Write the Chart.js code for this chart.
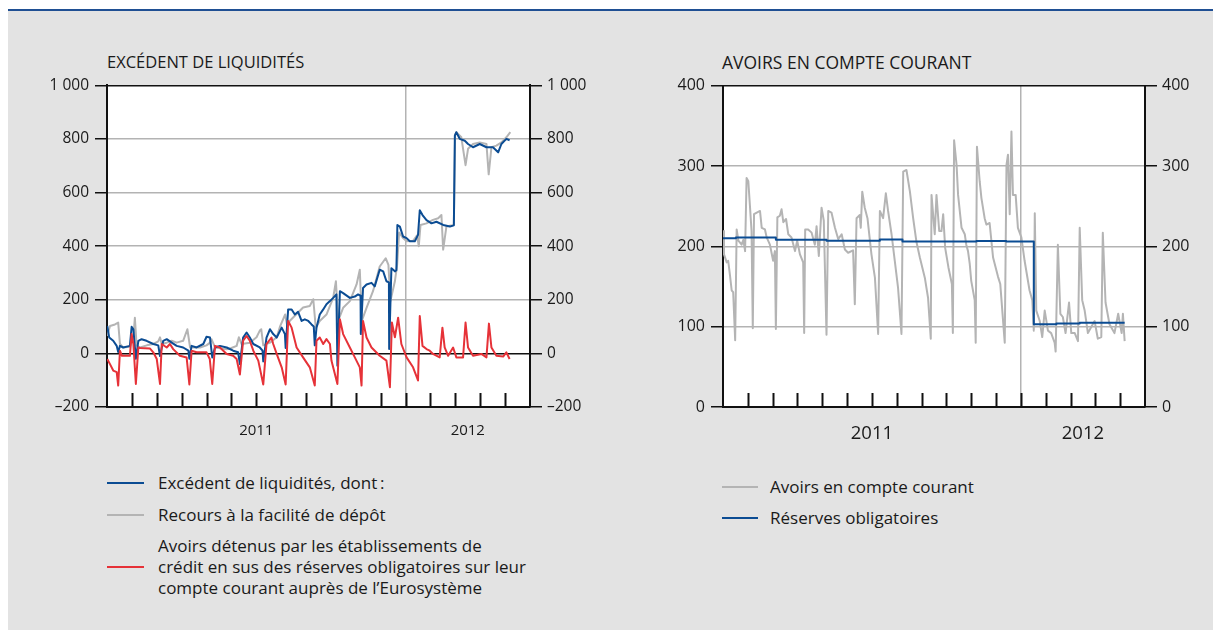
<!DOCTYPE html>
<html lang="fr">
<head>
<meta charset="utf-8">
<title>Excédent de liquidités et avoirs en compte courant</title>
<script src="https://cdn.jsdelivr.net/npm/chart.js@4.4.1/dist/chart.umd.min.js"></script>
<style>
  html, body { margin: 0; padding: 0; background: #ffffff; }
  body { width: 1221px; height: 630px; position: relative; overflow: hidden;
         font-family: "Open Sans", "Noto Sans", sans-serif; color: #1a1a1a; }
  #filet { position: absolute; left: 8px; top: 9px; width: 1205px; height: 2px; background: #1f4f93; }
  #fond { position: absolute; left: 8px; top: 11px; width: 1205px; height: 619px; background: #e3e3e3; }
  .titre { position: absolute; line-height: 18px; white-space: nowrap; }
  canvas { position: absolute; }
  .leg { position: absolute; font-size: 17px; line-height: 21px; white-space: nowrap; }
  .trait { position: absolute; height: 2px; }
</style>
</head>
<body>
<div id="filet"></div>
<div id="fond"></div>

<div class="titre" style="left:107px; top:53px; font-size:16.5px;">EXCÉDENT DE LIQUIDITÉS</div>
<div class="titre" style="left:722px; top:53px; font-size:17.5px;">AVOIRS EN COMPTE COURANT</div>

<canvas id="graphGauche" width="570" height="380" style="left:30px; top:70px;"></canvas>
<canvas id="graphDroite" width="595" height="380" style="left:620px; top:70px;"></canvas>

<!-- Légende du graphique de gauche -->
<div class="trait" style="left:107px; top:482px; width:37px; background:#0b4c93;"></div>
<div class="leg" style="left:158px; top:472px;">Excédent de liquidités, dont&#8201;:</div>
<div class="trait" style="left:107px; top:514px; width:37px; background:#b4b4b4;"></div>
<div class="leg" style="left:158px; top:504px;">Recours à la facilité de dépôt</div>
<div class="trait" style="left:107px; top:566px; width:37px; background:#e63238;"></div>
<div class="leg" style="left:158px; top:535px;">Avoirs détenus par les établissements de<br>crédit en sus des réserves obligatoires sur leur<br>compte courant auprès de l’Eurosystème</div>

<!-- Légende du graphique de droite -->
<div class="trait" style="left:722px; top:486px; width:36px; background:#b4b4b4;"></div>
<div class="leg" style="left:770px; top:476px;">Avoirs en compte courant</div>
<div class="trait" style="left:722px; top:517px; width:36px; background:#0b4c93;"></div>
<div class="leg" style="left:770px; top:507px;">Réserves obligatoires</div>

<script>
// Abscisse : mois écoulés depuis le 1er janvier 2011 (12 = 1er janvier 2012).
// Ordonnée : milliards d'euros.

// --- Excédent de liquidités (graphique de gauche) ---
const excedentLiquidites = [
  [0.01,102],[0.09,59],[0.25,47],[0.39,28],[0.45,5],[0.52,28],[0.65,22],[0.92,28],[0.99,99],[1.06,90],
  [1.16,-20],[1.26,47],[1.39,53],[1.59,47],[1.86,35],[2.06,30],[2.13,-10],[2.26,47],[2.40,53],[2.60,40],
  [2.80,28],[3.06,22],[3.27,10],[3.31,-20],[3.40,28],[3.60,22],[3.87,35],[4.00,62],[4.14,59],[4.23,-15],
  [4.34,22],[4.54,28],[4.81,22],[5.07,10],[5.27,4],[5.34,-40],[5.47,59],[5.61,78],[5.74,59],[5.88,35],
  [6.14,22],[6.25,10],[6.28,-30],[6.41,59],[6.55,90],[6.68,72],[6.82,59],[7.02,96],[7.15,72],[7.18,20],
  [7.28,164],[7.42,164],[7.55,145],[7.68,155],[7.82,121],[7.95,127],[8.09,121],[8.22,108],[8.31,100],[8.35,30],
  [8.42,96],[8.55,145],[8.69,164],[8.82,183],[8.96,195],[9.09,207],[9.22,220],[9.26,-46],[9.36,232],[9.49,225],
  [9.76,207],[9.96,212],[10.09,220],[10.19,215],[10.20,72],[10.29,244],[10.43,257],[10.63,263],[10.76,250],[10.96,312],
  [11.10,306],[11.23,269],[11.33,265],[11.34,16],[11.43,318],[11.57,306],[11.63,310],[11.67,479],[11.77,473],[11.90,436],
  [12.04,430],[12.17,418],[12.37,418],[12.50,442],[12.57,534],[12.68,516],[12.84,497],[13.04,485],[13.24,491],[13.51,479],
  [13.78,473],[13.94,478],[13.98,812],[14.04,825],[14.18,800],[14.38,793],[14.51,781],[14.71,769],[14.98,781],[15.25,769],
  [15.51,769],[15.72,750],[15.85,781],[16.05,800],[16.18,795]
];

const recoursFaciliteDepot = [
  [0.01,65],[0.12,102],[0.32,108],[0.45,115],[0.52,35],[0.65,22],[0.92,25],[1.06,60],[1.12,133],[1.19,30],
  [1.33,22],[1.60,30],[1.86,35],[2.06,45],[2.13,60],[2.20,35],[2.40,40],[2.60,47],[2.80,40],[3.06,47],
  [3.23,90],[3.34,22],[3.74,22],[4.00,30],[4.14,40],[4.20,53],[4.34,22],[4.81,15],[5.00,20],[5.21,28],
  [5.30,60],[5.41,35],[5.74,40],[6.01,60],[6.14,85],[6.20,90],[6.28,30],[6.55,40],[6.82,60],[6.96,102],
  [7.16,145],[7.25,100],[7.35,122],[7.62,147],[7.88,171],[8.15,177],[8.29,202],[8.39,96],[8.55,121],[8.82,145],
  [9.09,207],[9.20,269],[9.29,121],[9.49,170],[9.76,195],[10.03,257],[10.16,312],[10.24,121],[10.43,170],[10.69,232],
  [10.96,324],[11.20,355],[11.31,330],[11.39,195],[11.57,269],[11.66,330],[11.74,451],[11.90,430],[12.04,418],[12.30,420],
  [12.46,440],[12.53,400],[12.60,479],[12.84,485],[13.10,498],[13.31,504],[13.44,516],[13.51,387],[13.64,473],[13.88,478],
  [13.94,480],[13.99,815],[14.04,825],[14.24,806],[14.41,702],[14.51,763],[14.71,781],[14.98,787],[15.25,781],[15.34,668],
  [15.45,769],[15.65,775],[15.85,787],[16.05,806],[16.21,825]
];

const avoirsExcedentaires = [
  [0.01,-21],[0.12,-40],[0.25,-64],[0.39,-70],[0.45,-120],[0.52,10],[0.60,-9],[0.92,-9],[0.99,72],[1.06,35],
  [1.16,-114],[1.26,22],[1.33,20],[1.73,18],[1.86,4],[2.00,-21],[2.13,-114],[2.20,35],[2.40,22],[2.53,35],
  [2.66,16],[2.93,-9],[3.20,-15],[3.31,-116],[3.40,10],[3.60,4],[4.00,4],[4.13,-21],[4.23,-114],[4.34,28],
  [4.54,22],[4.81,-2],[5.07,-9],[5.21,-21],[5.34,-79],[5.47,47],[5.61,65],[5.74,47],[5.88,10],[6.08,-27],
  [6.28,-116],[6.41,35],[6.61,59],[6.68,35],[6.82,-2],[7.02,-52],[7.18,-116],[7.28,121],[7.42,96],[7.62,22],
  [7.88,-15],[8.15,-52],[8.35,-120],[8.42,47],[8.55,59],[8.69,35],[8.82,53],[8.96,35],[9.02,-27],[9.26,-114],
  [9.36,127],[9.49,72],[9.76,22],[9.96,-15],[10.16,-52],[10.23,-120],[10.29,121],[10.43,59],[10.63,22],[10.96,-9],
  [11.23,-27],[11.37,-126],[11.45,115],[11.57,60],[11.70,133],[11.83,35],[12.04,-15],[12.30,-52],[12.50,-101],[12.57,139],
  [12.68,28],[12.84,16],[12.97,10],[13.10,-2],[13.37,-15],[13.48,96],[13.57,22],[13.71,-9],[13.91,22],[14.04,-15],
  [14.31,-15],[14.41,115],[14.51,22],[14.71,-9],[15.05,-2],[15.25,-15],[15.35,111],[15.45,22],[15.65,-9],[15.92,-12],
  [16.05,4],[16.18,-21]
];

// --- Avoirs en compte courant (graphique de droite) ---
const avoirsCompteCourant = [
  [0.00,219],[0.04,190],[0.15,180],[0.21,182],[0.28,164],[0.35,145],[0.41,143],[0.49,83],[0.55,221],[0.62,207],
  [0.75,202],[0.82,208],[0.89,194],[0.95,285],[1.02,281],[1.09,248],[1.15,219],[1.20,98],[1.25,240],[1.36,242],
  [1.49,244],[1.56,223],[1.69,221],[1.76,211],[1.89,202],[2.02,182],[2.09,194],[2.13,97],[2.19,236],[2.29,238],
  [2.36,246],[2.43,230],[2.54,234],[2.63,215],[2.76,211],[2.90,194],[2.99,207],[3.10,190],[3.23,180],[3.27,92],
  [3.31,221],[3.43,221],[3.57,217],[3.70,202],[3.77,225],[3.86,188],[3.97,248],[4.06,232],[4.17,90],[4.24,244],
  [4.37,242],[4.51,223],[4.64,209],[4.78,215],[4.91,196],[5.04,192],[5.24,195],[5.31,128],[5.38,235],[5.51,239],
  [5.55,223],[5.61,268],[5.71,248],[5.82,235],[5.98,190],[6.12,161],[6.25,91],[6.32,244],[6.45,235],[6.56,266],
  [6.65,244],[6.79,215],[6.92,182],[7.05,149],[7.19,91],[7.26,293],[7.39,295],[7.53,268],[7.66,235],[7.79,206],
  [7.93,186],[8.13,161],[8.26,136],[8.37,85],[8.40,264],[8.53,215],[8.60,264],[8.71,219],[8.80,219],[8.87,240],
  [8.95,198],[9.08,174],[9.22,153],[9.26,92],[9.31,332],[9.41,301],[9.47,264],[9.61,223],[9.74,215],[9.80,202],
  [9.87,194],[9.94,178],[10.00,157],[10.14,133],[10.18,80],[10.23,324],[10.34,281],[10.41,260],[10.54,235],[10.61,227],
  [10.74,229],[10.88,186],[11.08,162],[11.17,153],[11.35,80],[11.42,301],[11.48,314],[11.55,240],[11.62,343],[11.68,264],
  [11.79,264],[11.88,223],[12.02,211],[12.15,182],[12.35,145],[12.46,133],[12.52,95],[12.56,241],[12.62,120],[12.76,107],
  [12.86,87],[12.96,120],[13.09,95],[13.22,92],[13.36,80],[13.40,69],[13.49,202],[13.59,116],[13.69,112],[13.80,92],
  [13.94,130],[14.03,92],[14.17,92],[14.30,82],[14.37,223],[14.47,133],[14.57,120],[14.70,92],[14.84,100],[14.97,107],
  [15.10,85],[15.24,87],[15.30,217],[15.41,130],[15.57,103],[15.77,92],[15.92,116],[16.06,92],[16.11,116],[16.18,82]
];

// Réserves obligatoires : niveau constant sur chaque période de constitution
const reservesObligatoires = [
  [0.00,210],[0.52,211],[2.13,208],[4.17,207],[5.38,207],[6.32,208.5],[7.23,206],[10.21,206.5],
  [11.41,206],[12.52,103],[13.43,104],[14.37,105],[16.18,105]
];

// --- Axes ---
const moisGraduations = [1,2,3,4,5,6,7,8,9,10,11,12,13,14,15,16];
const annees = [{ valeur: 6, libelle: '2011' }, { valeur: 14.5, libelle: '2012' }];
const debutAnnee2012 = 12;
const periodeMin = 0, periodeMax = 17;
const graduationsGauche = [-200, 0, 200, 400, 600, 800, 1000];
const graduationsDroite = [0, 100, 200, 300, 400];

const BLEU = '#0b4c93', GRIS = '#b4b4b4', ROUGE = '#e63238';
const NOIR = '#111111', GRILLE = '#b3b3b3', TEXTE = '#1a1a1a';
const POLICE = '"Open Sans", "Noto Sans", sans-serif';

function libelleMilliers(v) {
  const s = Math.abs(v).toString().replace(/\B(?=(\d{3})+(?!\d))/g, ' ');
  return v < 0 ? '\u2013' + s : s;
}

function versPoints(serie) {
  return serie.map(([x, y]) => ({ x, y }));
}

// Petites graduations mensuelles tracées vers l'intérieur, depuis l'axe horizontal
const graduationsInterieures = {
  id: 'graduationsInterieures',
  beforeDatasetsDraw(chart) {
    const { ctx, chartArea, scales } = chart;
    ctx.save();
    ctx.strokeStyle = NOIR;
    ctx.lineWidth = 2;
    for (const m of moisGraduations) {
      const px = Math.round(scales.x.getPixelForValue(m)) + 0.5;
      ctx.beginPath();
      ctx.moveTo(px, chartArea.bottom);
      ctx.lineTo(px, chartArea.bottom - 14);
      ctx.stroke();
    }
    ctx.restore();
  }
};

// Fond blanc de la zone de tracé
const fondZone = {
  id: 'fondZone',
  beforeDraw(chart) {
    const { ctx, chartArea } = chart;
    ctx.save();
    ctx.fillStyle = '#ffffff';
    ctx.fillRect(chartArea.left, chartArea.top, chartArea.right - chartArea.left, chartArea.bottom - chartArea.top);
    ctx.restore();
  }
};

function axeY(position, graduations, largeur, surZone, tailleTexte) {
  const min = graduations[0], max = graduations[graduations.length - 1];
  return {
    type: 'linear', position, min, max,
    afterBuildTicks: s => { s.ticks = graduations.map(v => ({ value: v })); },
    afterFit: s => { s.width = largeur; },
    border: { display: true, color: NOIR, width: 2 },
    grid: {
      drawOnChartArea: surZone,
      color: c => (c.tick && (c.tick.value === 0 || c.tick.value === min || c.tick.value === max)) ? NOIR : GRILLE,
      lineWidth: 1.5,
      drawTicks: true, tickLength: 12, tickColor: NOIR, tickWidth: 1.5
    },
    ticks: {
      padding: position === 'left' ? 6 : 5,
      color: TEXTE,
      font: { family: POLICE, size: tailleTexte },
      callback: v => libelleMilliers(v)
    }
  };
}

function axeX(tailleTexte, marge) {
  return {
    type: 'linear', min: periodeMin, max: periodeMax,
    afterBuildTicks: s => {
      s.ticks = [annees[0].valeur, debutAnnee2012, annees[1].valeur].map(v => ({ value: v }));
    },
    afterFit: s => { s.height = 43; },
    border: { display: true, color: NOIR, width: 2 },
    grid: {
      drawTicks: false,
      color: c => (c.tick && c.tick.value === debutAnnee2012) ? GRILLE : 'rgba(0,0,0,0)',
      lineWidth: 1.5
    },
    ticks: {
      autoSkip: false, maxRotation: 0, padding: marge,
      color: TEXTE, font: { family: POLICE, size: tailleTexte },
      callback: v => { const a = annees.find(e => e.valeur === v); return a ? a.libelle : ''; }
    }
  };
}

function serie(donnees, couleur, ordre, extra) {
  return Object.assign({
    data: versPoints(donnees), borderColor: couleur, backgroundColor: couleur,
    borderWidth: 2, pointRadius: 0, tension: 0, fill: false,
    borderJoinStyle: 'round', order: ordre
  }, extra || {});
}

function options(graduations, gauche, droite, hautMarge, tailleY, tailleX, margeX) {
  return {
    responsive: false, animation: false, events: [],
    layout: { padding: { top: hautMarge, left: 0, right: 0, bottom: 0 } },
    plugins: { legend: { display: false }, tooltip: { enabled: false }, title: { display: false } },
    scales: {
      x: axeX(tailleX, margeX),
      y: axeY('left', graduations, gauche, true, tailleY),
      y2: axeY('right', graduations, droite, false, tailleY)
    }
  };
}

function dessiner() {
  new Chart(document.getElementById('graphGauche'), {
    type: 'line',
    data: {
      datasets: [
        serie(excedentLiquidites, BLEU, 1),
        serie(recoursFaciliteDepot, GRIS, 2),
        serie(avoirsExcedentaires, ROUGE, 0)
      ]
    },
    options: options(graduationsGauche, 77, 70, 12, 15.5, 15, 15),
    plugins: [fondZone, graduationsInterieures]
  });

  new Chart(document.getElementById('graphDroite'), {
    type: 'line',
    data: {
      datasets: [
        serie(avoirsCompteCourant, GRIS, 1),
        serie(reservesObligatoires, BLEU, 0, { stepped: true })
      ]
    },
    options: options(graduationsDroite, 103, 70, 13, 16, 18.5, 16),
    plugins: [fondZone, graduationsInterieures]
  });
}

if (document.fonts && document.fonts.load) {
  Promise.all([
    document.fonts.load('15px "Open Sans"'),
    document.fonts.load('18px "Open Sans"')
  ]).then(dessiner, dessiner);
} else {
  dessiner();
}
</script>
</body>
</html>
